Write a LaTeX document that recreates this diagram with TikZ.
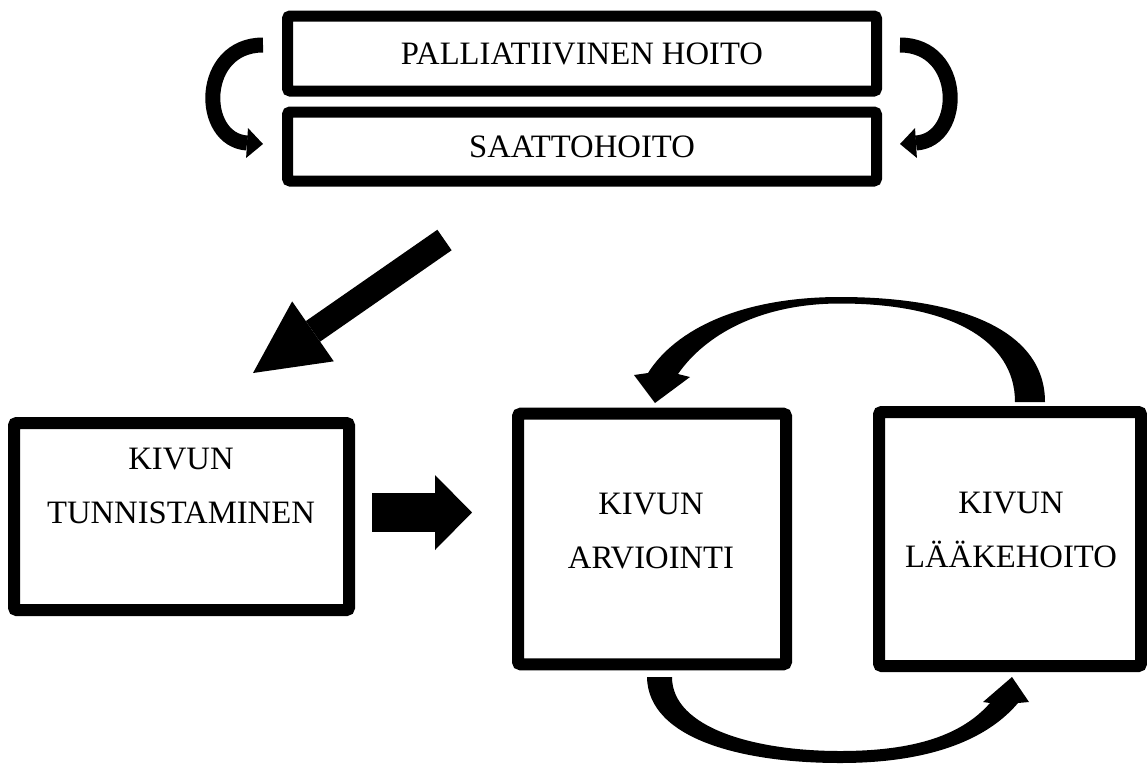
\documentclass[tikz,border=0pt]{standalone}
\usepackage{fontspec}
\setmainfont{Liberation Serif}
\usetikzlibrary{arrows.meta, positioning}

\begin{document}
\begin{tikzpicture}[
    x=0.75pt, y=-0.75pt,
    bar/.style={rectangle, rounded corners=2pt, minimum width=441.75pt, align=center, draw=black, line width=8.25pt, font=\fontsize{24.5}{41}\selectfont},
    block/.style={rectangle, rounded corners=2pt, draw=black, line width=9pt},
    caption/.style={align=center, inner sep=0pt, font=\fontsize{24.5}{41}\selectfont},
    curvearrow/.style={line width=11.25pt, -{Triangle[length=12pt, width=22.5pt, line width=0pt]}},
    blockarrow/.style={line width=#1}
]
\useasboundingbox (0,0) rectangle (1147,765);

% palliative care / end-of-life care
\node (pall) [bar, minimum height=56.25pt] at (582,53.5) {PALLIATIIVINEN HOITO};
\node (saatto) [bar, minimum height=51.75pt, below=7.5pt of pall] {SAATTOHOITO};

% pain boxes
\node (tunn) [block, minimum width=251.25pt, minimum height=140.25pt] at (181.5,516.5) {};
\node (tunntxt) [caption] at (181,486) {KIVUN\\TUNNISTAMINEN};
\node (arv) [block, minimum width=201pt, minimum height=187.9pt] at (652,539) {};
\node (arvtxt) [caption] at (651,531) {KIVUN\\ARVIOINTI};
\node (laak) [block, minimum width=196.5pt, minimum height=190.5pt] at (1010,539) {};
\node (laaktxt) [caption] at (1011,530) {KIVUN\\LÄÄKEHOITO};

% arrow ends
\coordinate (lcs) at (263,45);
\coordinate (lce) at (263,144);
\coordinate (rcs) at (900,45);
\coordinate (rce) at (900,144);
\coordinate (dgs) at (444.5,240);
\coordinate (dge) at (253,373);
\coordinate (sts) at (372,512.5);
\coordinate (ste) at (472,512.5);

\draw [curvearrow] (lcs) .. controls (199,45) and (199,140) .. (lce);
\draw [curvearrow] (rcs) .. controls (964,45) and (964,140) .. (rce);
\draw [line width=18.75pt, -{Triangle[length=54.75pt, width=54.75pt, line width=0pt]}] (dgs) -- (dge);
\draw [line width=29.25pt, -{Triangle[length=27.75pt, width=56.25pt, line width=0pt]}] (sts) -- (ste);

% loop between assessment and medication
\fill (1045,402) .. controls (1045,330) and (960,297) .. (840,297)
    .. controls (740,297) and (675,330) .. (648,373) -- (634,375) -- (655,403) -- (690,377) -- (678,374)
    .. controls (705,335) and (760,303.5) .. (840,303.5)
    .. controls (950,303.5) and (1015,340) .. (1015,402) -- cycle;
\fill (647,677) .. controls (648,740) and (745,763) .. (840,763)
    .. controls (925,763) and (985,742) .. (1018,703) -- (1029,702) -- (1012,677) -- (983,702) -- (990,703)
    .. controls (962,735) and (915,751) .. (840,751)
    .. controls (755,751) and (672,728) .. (672,677) -- cycle;

\end{tikzpicture}
\end{document}
